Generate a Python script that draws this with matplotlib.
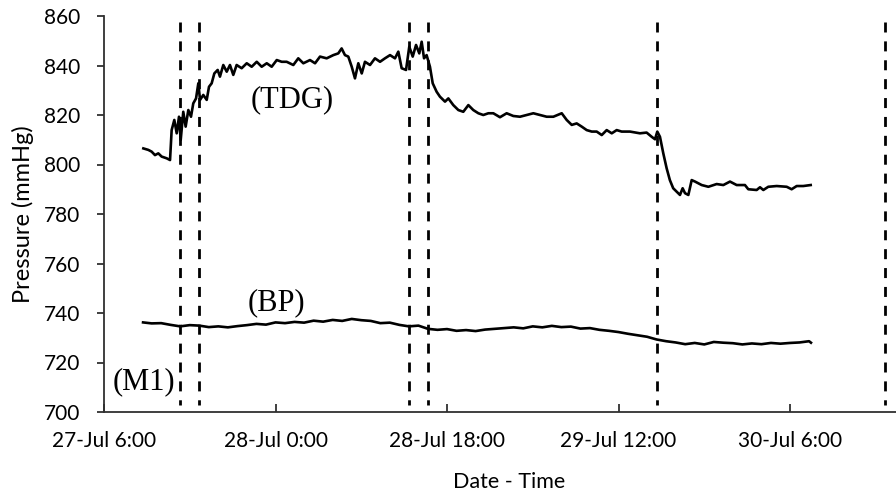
import matplotlib
matplotlib.use("Agg")
import matplotlib.pyplot as plt
import matplotlib.dates as mdates
import pandas as pd

# hours after 27-Jul 6:00
start = pd.Timestamp("2016-07-27 06:00")

tdg_hours = [4.13, 4.65, 5.0, 5.35, 5.7, 6.05, 6.58, 6.93, 7.1, 7.38, 7.63, 7.87,
             8.05, 8.32, 8.57, 8.85, 9.13, 9.37, 9.66, 9.9, 10.08, 10.42, 10.78,
             11.02, 11.3, 11.58, 11.93, 12.17, 12.52, 12.88, 13.22, 13.57, 13.92,
             14.45, 14.98, 15.5, 16.03, 16.55, 17.08, 17.6, 18.13, 18.65, 19.17,
             19.87, 20.39, 20.92, 21.62, 22.15, 22.67, 23.37, 24.07, 24.59, 24.94,
             25.29, 25.64, 26.0, 26.34, 26.69, 27.05, 27.39, 27.92, 28.44, 28.97,
             29.49, 30.02, 30.54, 30.89, 31.24, 31.7, 32.04, 32.4, 32.75, 33.09,
             33.34, 33.59, 33.86, 34.21, 34.5, 34.91, 35.26, 35.79, 36.14, 36.66,
             37.19, 37.71, 38.24, 38.76, 39.29, 39.81, 40.34, 40.86, 41.56, 42.26,
             42.96, 43.66, 44.36, 45.06, 45.76, 46.46, 47.16, 48.04, 48.56, 49.09,
             49.61, 50.14, 50.66, 51.19, 51.71, 52.24, 52.76, 53.29, 53.81, 54.33,
             55.2, 56.25, 56.95, 57.48, 57.83, 58.07, 58.35, 58.7, 59.05, 59.39,
             59.74, 60.1, 60.45, 60.73, 60.98, 61.33, 61.68, 62.03, 62.73, 63.43,
             64.3, 65.0, 65.7, 66.4, 67.27, 67.62, 68.5, 68.85, 69.2, 69.72, 70.6,
             71.65, 72.17, 72.7, 73.39, 74.17]
tdg_vals = [806.5, 805.9, 805.2, 803.8, 804.5, 803.2, 802.5, 801.8, 813.9, 818.0,
            812.6, 819.3, 809.9, 821.3, 815.3, 822.0, 819.3, 824.7, 826.7, 832.8,
            826.1, 828.1, 826.1, 831.4, 832.8, 836.8, 838.2, 835.5, 840.2, 837.5,
            840.2, 836.2, 840.2, 838.9, 840.9, 839.5, 841.5, 839.5, 840.9, 839.5,
            842.2, 841.5, 841.5, 840.2, 842.9, 840.9, 842.2, 840.9, 843.6, 842.9,
            844.2, 844.9, 846.9, 844.2, 843.6, 839.5, 834.8, 840.9, 836.8, 841.5,
            840.2, 842.9, 841.5, 842.9, 844.2, 842.9, 845.6, 838.9, 838.2, 847.6,
            843.6, 848.3, 844.9, 849.6, 842.9, 844.2, 839.5, 832.8, 829.4, 827.4,
            825.4, 826.7, 824.0, 822.0, 821.3, 824.0, 822.0, 820.7, 820.0, 820.7,
            820.7, 819.1, 820.7, 819.6, 819.3, 820.0, 820.7, 820.0, 819.3, 819.3,
            820.7, 818.0, 816.0, 816.6, 815.3, 813.9, 813.3, 813.3, 811.9, 813.9,
            812.6, 813.9, 813.3, 813.3, 812.6, 812.9, 811.2, 810.2, 813.3, 811.2,
            804.5, 798.5, 793.7, 790.4, 789.0, 787.7, 790.4, 788.4, 787.7, 793.7,
            793.1, 791.7, 791.0, 792.1, 791.7, 793.1, 791.7, 791.7, 790.0, 789.7,
            790.8, 789.7, 791.0, 791.3, 791.0, 790.0, 791.3, 791.3, 791.7]

bp_hours = [4.1, 5, 6, 7, 8, 9, 10, 11, 12, 13, 14, 15, 16, 17, 18, 19, 20, 21, 22,
            23, 24, 25, 26, 27, 28, 29, 30, 31, 32, 33, 34, 35, 36, 37, 38, 39, 40,
            41, 42, 43, 44, 45, 46, 47, 48, 49, 50, 51, 52, 53, 54, 55, 56, 57, 58,
            59, 60, 61, 62, 63, 64, 65, 66, 67, 68, 69, 70, 71, 72, 73, 74, 74.2]
bp_vals = [736.2, 735.8, 735.9, 735.2, 734.6, 735.1, 734.9, 734.3, 734.6, 734.2,
           734.7, 735.1, 735.6, 735.3, 736.2, 735.9, 736.4, 736.1, 736.9, 736.5,
           737.2, 736.8, 737.6, 737.1, 736.8, 735.9, 736.1, 735.2, 734.6, 734.9,
           733.6, 733.2, 733.5, 732.8, 733.1, 732.7, 733.3, 733.6, 733.9, 734.2,
           733.8, 734.6, 734.2, 734.8, 734.3, 734.5, 733.7, 733.9, 733.2, 732.8,
           732.3, 731.6, 731.0, 730.4, 729.3, 728.6, 728.1, 727.4, 727.9, 727.3,
           728.3, 728.0, 727.8, 727.3, 727.7, 727.4, 727.9, 727.6, 727.9, 728.1,
           728.6, 728.0]

# times of the dashed event markers
event_hours = [8, 10, 32, 34, 58, 82]
tick_hours = [0, 18, 36, 54, 72]


def to_time(hours):
    return start + pd.to_timedelta(hours, unit="h")


fig = plt.figure(figsize=(8.96, 5.0), dpi=100)
ax = fig.add_axes([104 / 896, 88 / 500, 800 / 896, 396 / 500])

ax.plot(to_time(tdg_hours), tdg_vals, color="black", lw=1.9)
ax.plot(to_time(bp_hours), bp_vals, color="black", lw=1.9)
for h in event_hours:
    t = to_time(h)
    ax.plot([t, t], [857.5, 703], color="black", lw=2.0, ls=(0, (3.6, 3.2)))

ax.set_ylim(700, 860)
ax.set_yticks(range(700, 861, 20))
ax.set_xlim(to_time(0), to_time(800 / 9.528))
ax.set_xticks(to_time(tick_hours))
ax.xaxis.set_major_formatter(mdates.DateFormatter("%d-%b %-H:%M"))

for s in ["top", "right"]:
    ax.spines[s].set_visible(False)
for s in ["left", "bottom"]:
    ax.spines[s].set_color("#303030")
    ax.spines[s].set_linewidth(1.3)

ax.tick_params(axis="x", direction="in", length=6, width=1.3, color="#303030",
               pad=14, labelsize=15)
ax.tick_params(axis="y", direction="out", length=5, width=1.3, color="#303030",
               pad=12, labelsize=15)
for lab in ax.get_xticklabels() + ax.get_yticklabels():
    lab.set_family("Lato")

serif = dict(family="Liberation Serif", fontsize=22, ha="center", va="center")
ax.text(to_time(19.7), 826.1, "(TDG)", **serif)
ax.text(to_time(18.1), 744.0, "(BP)", **serif)
ax.text(to_time(4.2), 712.1, "(M1)", **serif)

fig.text(509 / 896, 1 - 482 / 500, "Date - Time", family="Lato", fontsize=15.5,
         ha="center", va="center")
fig.text(23 / 896, 1 - 214 / 500, "Pressure (mmHg)", family="Lato", fontsize=17,
         ha="center", va="center", rotation=90)

fig.savefig("out.png", dpi=100)
